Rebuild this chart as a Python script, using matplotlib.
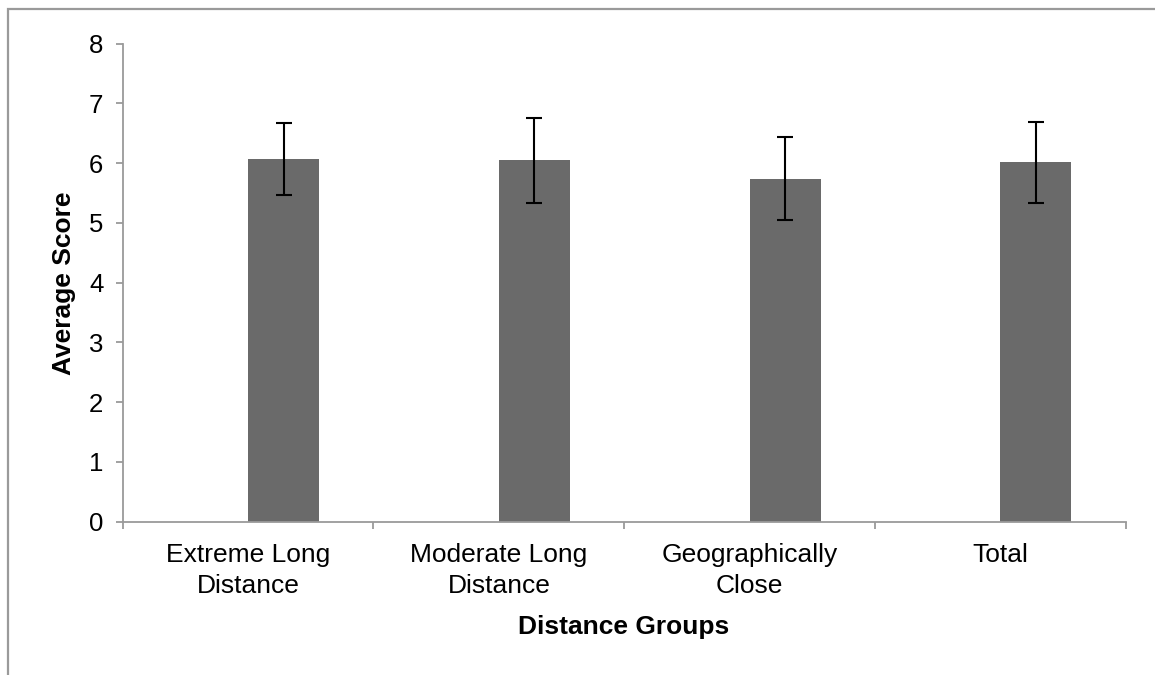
import matplotlib
matplotlib.use("Agg")
import matplotlib.pyplot as plt
from matplotlib.patches import Rectangle
import numpy as np

categories = ["Extreme Long\nDistance", "Moderate Long\nDistance", "Geographically\nClose", "Total"]
means = [6.07, 6.05, 5.74, 6.01]
errors = [0.60, 0.71, 0.69, 0.67]
y_ticks = [0, 1, 2, 3, 4, 5, 6, 7, 8]

plt.rcParams['font.family'] = ['Liberation Sans', 'DejaVu Sans']

W, H = 1155, 675
fig = plt.figure(figsize=(W / 100, H / 100), dpi=100)
fig.patch.set_facecolor("white")

# outer chart frame (cut off at right/bottom)
fig.patches.append(Rectangle((7.7 / W, -0.05), 1.1, (H - 9.3) / H + 0.05,
                             transform=fig.transFigure, fill=False,
                             edgecolor="#9a9a9a", linewidth=1.6, zorder=0))

ax_l, ax_r = 122.7 / W, 1125.7 / W
ax_b, ax_t = 1 - 521.7 / H, 1 - 43.5 / H
ax = fig.add_axes([ax_l, ax_b, ax_r - ax_l, ax_t - ax_b])

x = np.arange(len(categories))
bar_w = 0.283
ax.bar(x, means, width=bar_w, align="edge", color="#6a6a6a", zorder=2)
ax.errorbar(x + bar_w / 2, means, yerr=errors, fmt="none", ecolor="black",
            elinewidth=1.5, capsize=5.8, capthick=1.5, zorder=3)

ax.set_xlim(-0.5, len(categories) - 0.5)
ax.set_ylim(0, 8)
ax.set_yticks(y_ticks)
ax.set_yticklabels([str(v) for v in y_ticks])

ax.set_xticks(np.arange(-0.5, len(categories), 1.0))
ax.set_xticklabels([])
ax.set_xticks(x, minor=True)
ax.set_xticklabels(categories, minor=True, linespacing=1.4)

for s in ["top", "right"]:
    ax.spines[s].set_visible(False)
for s in ["left", "bottom"]:
    ax.spines[s].set_color("#9a9a9a")
    ax.spines[s].set_linewidth(1.3)

ax.tick_params(axis="y", which="major", direction="out", length=5, width=1.3,
               color="#9a9a9a", labelsize=18.5, pad=9, labelcolor="black")
ax.tick_params(axis="x", which="major", direction="out", length=5, width=1.3,
               color="#9a9a9a")
ax.tick_params(axis="x", which="minor", length=0, labelsize=19, pad=15,
               labelcolor="black")

fig.text(624 / W, 1 - 627 / H, "Distance Groups", ha="center", va="center",
         fontsize=19, fontweight="bold")
fig.text(64 / W, 1 - 283 / H, "Average Score", ha="center", va="center",
         rotation=90, fontsize=19, fontweight="bold")

fig.savefig("out.png", dpi=100, facecolor="white")
